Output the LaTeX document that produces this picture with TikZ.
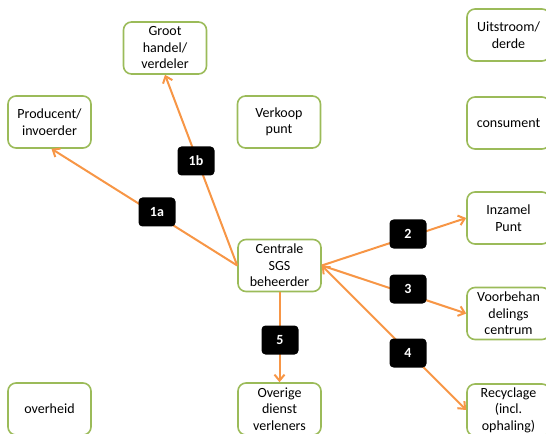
\documentclass[tikz,border=0pt]{standalone}
\usepackage{fontspec}
\setmainfont{Carlito}
\usetikzlibrary{arrows.meta}
\definecolor{boxgreen}{HTML}{9BBB59}
\definecolor{arrorange}{HTML}{F79646}
\begin{document}
\begin{tikzpicture}[x=1bp,y=-1bp,
  ent/.style={draw=boxgreen,line width=1.6bp,fill=white,rounded corners=8bp,
    minimum width=83bp,minimum height=52bp,align=center,inner sep=1bp,
    font=\fontsize{14bp}{16.5bp}\selectfont},
  lab/.style={fill=black,text=white,rounded corners=4bp,minimum width=37bp,
    minimum height=29bp,inner sep=0pt,font=\fontsize{14bp}{16bp}\selectfont\bfseries},
  flow/.style={draw=arrorange,line width=2bp,-{Straight Barb[length=6bp,width=10bp,line width=2bp]}},
  bflow/.style={draw=arrorange,line width=2bp,{Straight Barb[length=6bp,width=10bp,line width=2bp]}-{Straight Barb[length=6bp,width=10bp,line width=2bp]}}]
\useasboundingbox (0,0) rectangle (546,434);
\node[ent] (groot) at (165,48) {Groot\\handel/\\verdeler};
\node[ent] (prod) at (49.5,122) {Producent/\\invoerder};
\node[ent] (verk) at (279,122) {Verkoop\\punt};
\node[ent] (uit) at (508.5,35) {Uitstroom/\\derde};
\node[ent] (cons) at (508.5,123) {consument};
\node[ent] (cent) at (279.5,265.5) {Centrale\\SGS\\beheerder};
\node[ent] (inz) at (508.5,218) {Inzamel\\Punt};
\node[ent] (voor) at (508.5,313.5) {Voorbehan\\delings\\centrum};
\node[ent] (rec) at (508.5,410) {Recyclage\\(incl.\\ophaling)};
\node[ent] (over) at (279.5,409) {Overige\\dienst\\verleners};
\node[ent] (oveh) at (49.5,409) {overheid};
\draw[flow] (cent.west) -- ([xshift=2bp]prod.south);
\draw[flow] (cent.west) -- (groot.south);
\draw[flow] (cent.east) -- (inz.west);
\draw[flow] (cent.east) -- (voor.west);
\draw[bflow] (rec.west) -- (cent.east);
\draw[flow] (cent.south) -- (over.north);
\node[lab] (l1a) at (157,212) {1a};
\node[lab] (l1b) at (196,161) {1b};
\node[lab] (l2) at (408,234) {2};
\node[lab] (l3) at (408,289) {3};
\node[lab] (l4) at (408,353) {4};
\node[lab] (l5) at (280,340) {5};
\end{tikzpicture}
\end{document}
